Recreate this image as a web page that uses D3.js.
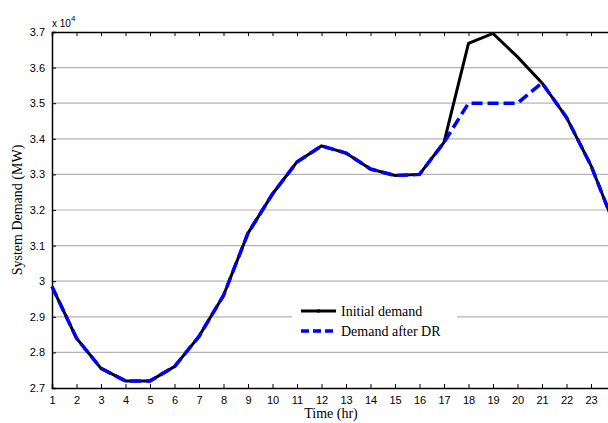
<!DOCTYPE html>
<html>
<head>
<meta charset="utf-8">
<script src="https://cdn.jsdelivr.net/npm/d3@7"></script>
<style>
  body { margin: 0; background: #fff; }
  svg { display: block; }
</style>
</head>
<body>
<div id="vis"></div>
<script>
const hours = d3.range(1, 25);
const initialDemand = [29850, 28400, 27550, 27200, 27200, 27600, 28450, 29600, 31350, 32450, 33350, 33800,
  33600, 33150, 32970, 33000, 33900, 36680, 36960, 36300, 35570, 34600, 33250, 31500];
const demandAfterDR = [29850, 28400, 27550, 27200, 27200, 27600, 28450, 29600, 31350, 32450, 33350, 33800,
  33600, 33150, 32970, 33000, 33900, 35000, 35000, 35000, 35570, 34600, 33250, 31500];
const yTicks = [27000, 28000, 29000, 30000, 31000, 32000, 33000, 34000, 35000, 36000, 37000];
const legendLabels = ["Initial demand", "Demand after DR"];

const W = 608, H = 423;
const margin = { top: 32, left: 52 };
const plotH = 356;
const step = 24.5;

const svg = d3.select("#vis").append("svg").attr("width", W).attr("height", H);

const x = d3.scaleLinear().domain([1, 24]).range([margin.left, margin.left + 23 * step]);
const y = d3.scaleLinear().domain([27000, 37000]).range([margin.top + plotH, margin.top]);

// grid
svg.append("g").selectAll("line").data(yTicks.slice(1, -1)).join("line")
  .attr("x1", x(1)).attr("x2", x(24))
  .attr("y1", d => y(d)).attr("y2", d => y(d))
  .attr("stroke", "#b4b4b4").attr("stroke-width", 1.2);

// axes
const tickFont = "'Liberation Sans', Arial, sans-serif";
const serif = "'Liberation Serif', 'Times New Roman', serif";
const axBottom = svg.append("g").attr("transform", `translate(0,${y(27000)})`)
  .call(d3.axisBottom(x).tickValues(hours.slice(0, 23)).tickSize(-4).tickPadding(8).tickFormat(d3.format("d")));
const axTop = svg.append("g").attr("transform", `translate(0,${y(37000)})`)
  .call(d3.axisTop(x).tickValues(hours.slice(0, 23)).tickSize(-4).tickFormat(""));
const axLeft = svg.append("g").attr("transform", `translate(${x(1)},0)`)
  .call(d3.axisLeft(y).tickValues(yTicks).tickSize(-4).tickPadding(7).tickFormat(d => d3.format(".1f")(d / 10000).replace(/\.0$/, "")));

[axBottom, axTop, axLeft].forEach(g => {
  g.select(".domain").attr("stroke", "#000").attr("stroke-width", 1.5);
  g.selectAll(".tick line").attr("stroke", "#000");
  g.selectAll("text").attr("fill", "#000").style("font-family", tickFont).style("font-size", "11px");
});

// exponent label
const expo = svg.append("text").attr("x", x(1)).attr("y", margin.top - 5)
  .style("font-family", tickFont).style("font-size", "10px");
expo.append("tspan").text("x 10");
expo.append("tspan").attr("dy", -6).style("font-size", "8px").text("4");

// lines
const line = d3.line().x((d, i) => x(hours[i])).y(d => y(d));
svg.append("path").datum(initialDemand)
  .attr("fill", "none").attr("stroke", "#000").attr("stroke-width", 3)
  .attr("stroke-linejoin", "miter").attr("d", line);
svg.append("path").datum(demandAfterDR)
  .attr("fill", "none").attr("stroke", "#0000ff").attr("stroke-width", 3.5)
  .attr("stroke-dasharray", "11,5").attr("d", line);

// legend
const lg = svg.append("g");
lg.append("rect").attr("x", 292).attr("y", 297).attr("width", 165).attr("height", 44).attr("fill", "#fff");
const styles = [{ c: "#000", w: 3, dash: null }, { c: "#0000ff", w: 3.5, dash: "8,4" }];
legendLabels.forEach((lab, i) => {
  const yy = 311 + i * 20;
  lg.append("line").attr("x1", 301).attr("x2", 336).attr("y1", yy).attr("y2", yy)
    .attr("stroke", styles[i].c).attr("stroke-width", styles[i].w)
    .attr("stroke-dasharray", styles[i].dash);
  lg.append("circle").attr("cx", 318.5).attr("cy", yy).attr("r", 1.8).attr("fill", styles[i].c);
  lg.append("text").attr("x", 341).attr("y", yy + 5).text(lab)
    .style("font-family", serif).style("font-size", "14px");
});

// axis titles
svg.append("text").attr("x", 331).attr("y", 418).attr("text-anchor", "middle")
  .style("font-family", serif).style("font-size", "14px")
  .text("Time (hr)");
svg.append("text").attr("transform", `translate(22,${y(32000)}) rotate(-90)`).attr("text-anchor", "middle")
  .style("font-family", serif).style("font-size", "14px")
  .text("System Demand (MW)");
</script>
</body>
</html>
